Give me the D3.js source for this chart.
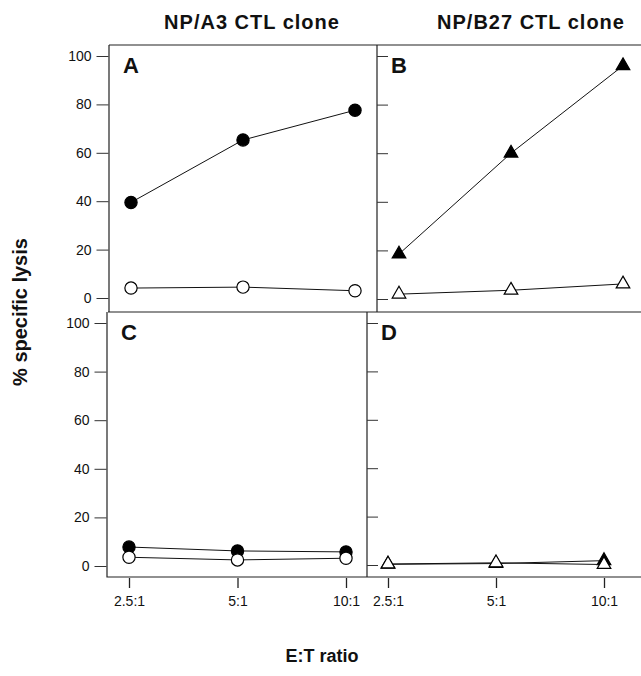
<!DOCTYPE html>
<html lang="en">
<head>
    <meta charset="UTF-8">
    <title>Specific lysis by E:T ratio</title>
    <script src="https://d3js.org/d3.v7.min.js"></script>
    <style>
        body { margin: 0; background: #fff; }
        svg { display: block; font-family: "Liberation Sans", Arial, sans-serif; }
    </style>
</head>
<body>
    <div id="chart"></div>
    <script>
        const ratios = [2.5, 5, 10];
        const ratioLabels = ["2.5:1", "5:1", "10:1"];
        const yTicks = [0, 20, 40, 60, 80, 100];

        const aFilled = [39.5, 65.3, 77.6];
        const aOpen = [4.1, 4.5, 3.0];
        const bFilled = [18.5, 60, 96];
        const bOpen = [2.0, 3.6, 6.2];
        const cFilled = [7.8, 6.2, 5.8];
        const cOpen = [3.6, 2.5, 3.2];
        const dFilled = [0.3, 0.6, 1.8];
        const dOpen = [0.4, 0.9, 0.2];

        const width = 641;
        const height = 676;

        // panel boxes (the scanned figure is slightly misaligned, so each has its own)
        const panels = [
            {id: "A", x: [131, 355], y: [298, 56], left: 109, top: 45, filled: aFilled, open: aOpen, shape: d3.symbolCircle, labels: true, xAxis: false},
            {id: "B", x: [399, 623], y: [299, 56], left: 377, top: 45, filled: bFilled, open: bOpen, shape: d3.symbolTriangle, labels: false, xAxis: false},
            {id: "C", x: [129, 346], y: [566, 323], left: 107, top: 312, filled: cFilled, open: cOpen, shape: d3.symbolCircle, labels: true, xAxis: true},
            {id: "D", x: [388, 604], y: [565, 323], left: 367, top: 312, filled: dFilled, open: dOpen, shape: d3.symbolTriangle, labels: false, xAxis: true}
        ];

        const svg = d3.select("#chart").append("svg")
            .attr("width", width)
            .attr("height", height)
            .attr("viewBox", [0, 0, width, height]);

        // frame
        const frame = svg.append("g")
            .attr("stroke", "#222")
            .attr("stroke-width", 1.2)
            .attr("fill", "none");
        frame.append("path").attr("d", "M109,45H641M109,45V312M107,312V577H641M108,312H641M377,45V312M367,312V577");

        panels.forEach(p => {
            const x = d3.scaleLog().domain([2.5, 10]).range(p.x);
            const y = d3.scaleLinear().domain([0, 100]).range(p.y);

            const g = svg.append("g");

            const yAxis = p.labels
                ? d3.axisLeft(y).tickValues(yTicks).tickSize(12).tickPadding(5)
                : d3.axisRight(y).tickValues(yTicks).tickSize(11).tickFormat("");
            g.append("g")
                .attr("transform", `translate(${p.labels ? p.left - 0.5 : p.left},0)`)
                .call(yAxis)
                .call(s => s.select(".domain").remove())
                .call(s => s.selectAll("line").attr("stroke", "#333"))
                .call(s => s.selectAll("text")
                    .attr("font-size", 14)
                    .attr("fill", "#111")
                    .attr("font-family", "'Liberation Sans', Arial, sans-serif"));

            if (p.xAxis) {
                g.append("g")
                    .attr("transform", "translate(0,578)")
                    .call(d3.axisBottom(x).tickValues(ratios)
                        .tickFormat((d, i) => ratioLabels[i])
                        .tickSize(10).tickPadding(8))
                    .call(s => s.select(".domain").remove())
                    .call(s => s.selectAll("line").attr("stroke", "#222").attr("stroke-width", 1.3))
                    .call(s => s.selectAll("text")
                        .attr("font-size", 14)
                        .attr("fill", "#111")
                        .attr("font-family", "'Liberation Sans', Arial, sans-serif"));
            }

            g.append("text")
                .attr("x", p.left + 14)
                .attr("y", p.top + 28)
                .attr("font-size", 22)
                .attr("font-weight", "bold")
                .attr("fill", "#111")
                .text(p.id);

            const line = d3.line()
                .x((d, i) => x(ratios[i]))
                .y(d => y(d));

            const size = p.shape === d3.symbolCircle ? 118 : 80;

            // filled series first, open series drawn over it
            [{vals: p.filled, fill: "#000"}, {vals: p.open, fill: "#fff"}].forEach(s => {
                g.append("path")
                    .attr("d", line(s.vals))
                    .attr("fill", "none")
                    .attr("stroke", "#111")
                    .attr("stroke-width", 1);
                g.selectAll(null)
                    .data(s.vals)
                    .join("path")
                    .attr("transform", (d, i) => `translate(${x(ratios[i])},${y(d)})`)
                    .attr("d", d3.symbol(p.shape, size))
                    .attr("fill", s.fill)
                    .attr("stroke", "#000")
                    .attr("stroke-width", 1.2);
            });
        });

        // titles
        svg.append("text")
            .attr("x", 252).attr("y", 29)
            .attr("text-anchor", "middle")
            .attr("font-size", 20).attr("font-weight", "bold")
            .attr("letter-spacing", 1)
            .attr("fill", "#111")
            .text("NP/A3 CTL clone");
        svg.append("text")
            .attr("x", 531).attr("y", 29)
            .attr("text-anchor", "middle")
            .attr("font-size", 20).attr("font-weight", "bold")
            .attr("letter-spacing", 1)
            .attr("fill", "#111")
            .text("NP/B27 CTL clone");

        svg.append("text")
            .attr("transform", "translate(27,312) rotate(-90)")
            .attr("text-anchor", "middle")
            .attr("font-size", 20).attr("font-weight", "bold")
            .attr("fill", "#111")
            .text("% specific lysis");

        svg.append("text")
            .attr("x", 322).attr("y", 662)
            .attr("text-anchor", "middle")
            .attr("font-size", 18).attr("font-weight", "bold")
            .attr("fill", "#111")
            .text("E:T ratio");
    </script>
</body>
</html>
